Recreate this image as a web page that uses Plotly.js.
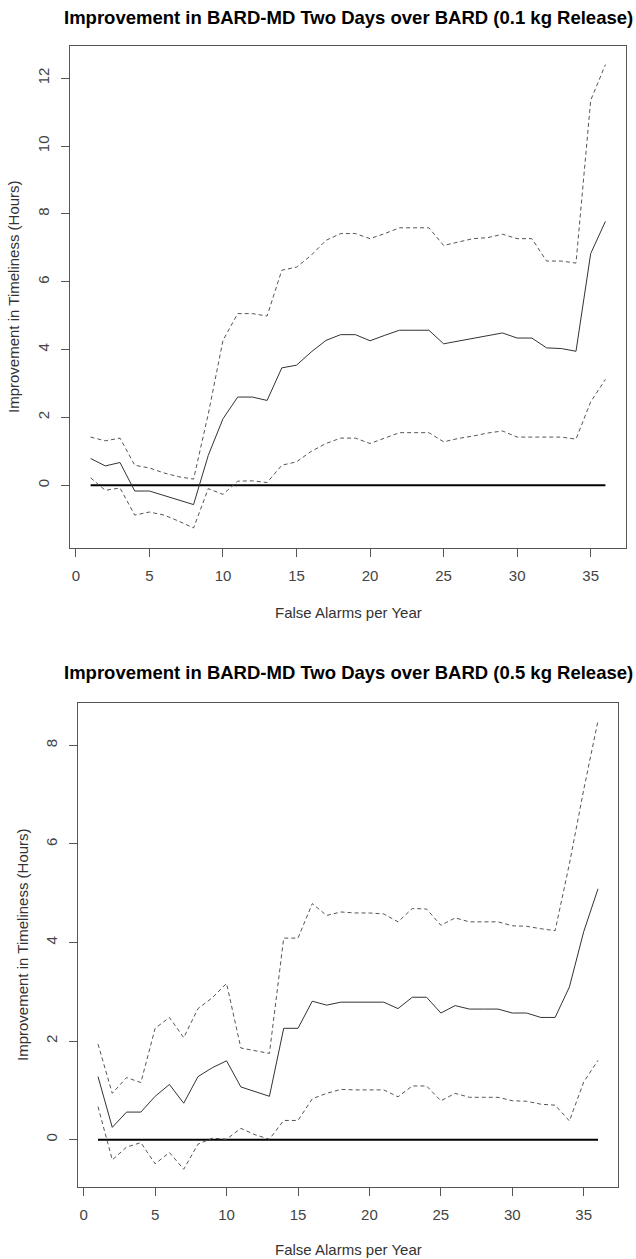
<!DOCTYPE html>
<html>
<head>
<meta charset="utf-8">
<script src="https://cdn.plot.ly/plotly-3.0.1.min.js"></script>
<style>html,body{margin:0;padding:0;background:#fff;}#chart{width:636px;height:1259px;}</style>
</head>
<body>
<div id="chart"></div>
<script>
// False alarms per year (x) shared by both panels
const falseAlarms = [1,2,3,4,5,6,7,8,9,10,11,12,13,14,15,16,17,18,19,20,21,22,23,24,25,26,27,28,29,30,31,32,33,34,35,36];

// Panel 1: 0.1 kg release
const mean01  = [0.79,0.57,0.67,-0.17,-0.17,-0.30,-0.42,-0.57,0.88,1.96,2.60,2.60,2.50,3.46,3.54,3.93,4.27,4.44,4.44,4.26,4.42,4.57,4.57,4.57,4.17,4.25,4.34,4.42,4.49,4.34,4.34,4.05,4.03,3.95,6.83,7.78];
const upper01 = [1.42,1.31,1.39,0.59,0.51,0.36,0.25,0.18,2.10,4.27,5.06,5.06,4.99,6.34,6.43,6.78,7.22,7.42,7.42,7.27,7.42,7.59,7.59,7.59,7.07,7.17,7.27,7.30,7.40,7.27,7.27,6.61,6.61,6.55,11.35,12.40];
const lower01 = [0.22,-0.15,-0.08,-0.88,-0.79,-0.88,-1.06,-1.26,-0.10,-0.27,0.12,0.13,0.08,0.59,0.69,1.00,1.23,1.39,1.39,1.23,1.39,1.55,1.55,1.55,1.28,1.38,1.45,1.54,1.60,1.42,1.42,1.42,1.42,1.36,2.46,3.12];

// Panel 2: 0.5 kg release
const mean05  = [1.28,0.25,0.56,0.56,0.88,1.12,0.74,1.28,1.46,1.60,1.07,0.97,0.88,2.26,2.26,2.81,2.73,2.79,2.79,2.79,2.79,2.66,2.89,2.89,2.57,2.72,2.65,2.65,2.65,2.57,2.57,2.48,2.48,3.10,4.22,5.09];
const upper05 = [1.94,0.94,1.26,1.16,2.26,2.48,2.07,2.66,2.88,3.17,1.86,1.81,1.75,4.09,4.09,4.79,4.55,4.62,4.60,4.60,4.58,4.42,4.69,4.68,4.35,4.50,4.42,4.42,4.42,4.34,4.33,4.28,4.24,5.60,7.10,8.50];
const lower05 = [0.67,-0.41,-0.15,-0.06,-0.49,-0.26,-0.60,-0.09,0.03,0.01,0.23,0.10,0.01,0.39,0.39,0.83,0.94,1.02,1.01,1.01,1.01,0.87,1.09,1.09,0.79,0.94,0.86,0.86,0.86,0.79,0.78,0.72,0.70,0.38,1.17,1.61];

const baseline = falseAlarms.map(() => 0);

const titles = [
  "Improvement in BARD-MD Two Days over BARD (0.1 kg Release)",
  "Improvement in BARD-MD Two Days over BARD (0.5 kg Release)"
];
const xTitle = "False Alarms per Year";
const yTitle = "Improvement in Timeliness (Hours)";

const solid = {color:'#333333', width:1};
const dashed = {color:'#555555', width:1, dash:'4px,3px'};
const zero = {color:'#000000', width:2};

function panel(xa, ya, mean, up, lo) {
  return [
    {x:falseAlarms, y:baseline, xaxis:xa, yaxis:ya, mode:'lines', line:zero, hoverinfo:'skip'},
    {x:falseAlarms, y:up, xaxis:xa, yaxis:ya, mode:'lines', line:dashed},
    {x:falseAlarms, y:lo, xaxis:xa, yaxis:ya, mode:'lines', line:dashed},
    {x:falseAlarms, y:mean, xaxis:xa, yaxis:ya, mode:'lines', line:solid}
  ];
}

const data = [].concat(panel('x','y',mean01,upper01,lower01), panel('x2','y2',mean05,upper05,lower05));

const FONT = 'Liberation Sans, Arial, sans-serif';
const tickFont = {family:FONT, size:15, color:'#444'};
const axBase = {
  showgrid:false, zeroline:false, showline:true, mirror:true,
  linecolor:'#555', linewidth:1, ticks:'outside', ticklen:8, tickcolor:'#555',
  tickfont:tickFont, fixedrange:true
};

// plot areas in pixels: top panel 70..626 x 46..548 ; bottom panel 78..618 x 703..1187
const L=70, R=10, T=46, B=72;
const W=636-L-R, H=1259-T-B;
const py = p => (1259-B-p)/H;
const px = p => (p-L)/W;

const layout = {
  width:636, height:1259, showlegend:false,
  paper_bgcolor:'#fff', plot_bgcolor:'#fff',
  margin:{l:L, r:R, t:T, b:B},
  xaxis: Object.assign({}, axBase, {domain:[0,1], range:[-0.4,37.4], tickvals:[0,5,10,15,20,25,30,35], ticklabelstandoff:6, anchor:'y'}),
  yaxis: Object.assign({}, axBase, {domain:[py(548),1], range:[-1.85,12.95], tickvals:[0,2,4,6,8,10,12], tickangle:-90, ticklabelstandoff:6, anchor:'x'}),
  xaxis2: Object.assign({}, axBase, {domain:[px(78),px(618)], range:[-0.4,37.4], tickvals:[0,5,10,15,20,25,30,35], ticklabelstandoff:6, anchor:'y2'}),
  yaxis2: Object.assign({}, axBase, {domain:[0,py(703)], range:[-0.96,8.86], tickvals:[0,2,4,6,8], tickangle:-90, ticklabelstandoff:6, anchor:'x2'}),
  annotations: [
    {text:'<b>'+titles[0]+'</b>', xref:'paper', yref:'paper', x:px(348), y:py(18), showarrow:false, xanchor:'center', yanchor:'middle', font:{family:FONT, size:18.5, color:'#000'}},
    {text:'<b>'+titles[1]+'</b>', xref:'paper', yref:'paper', x:px(348), y:py(672), showarrow:false, xanchor:'center', yanchor:'middle', font:{family:FONT, size:18.5, color:'#000'}},
    {text:xTitle, xref:'paper', yref:'paper', x:px(348), y:py(612), showarrow:false, xanchor:'center', yanchor:'middle', font:{family:FONT, size:15, color:'#333'}},
    {text:xTitle, xref:'paper', yref:'paper', x:px(348), y:py(1249), showarrow:false, xanchor:'center', yanchor:'middle', font:{family:FONT, size:15, color:'#333'}},
    {text:yTitle, xref:'paper', yref:'paper', x:px(13), y:py(297), textangle:-90, showarrow:false, xanchor:'center', yanchor:'middle', font:{family:FONT, size:15, color:'#333'}},
    {text:yTitle, xref:'paper', yref:'paper', x:px(22), y:py(945), textangle:-90, showarrow:false, xanchor:'center', yanchor:'middle', font:{family:FONT, size:15, color:'#333'}}
  ]
};

Plotly.newPlot('chart', data, layout, {displayModeBar:false, staticPlot:true});
</script>
</body>
</html>
